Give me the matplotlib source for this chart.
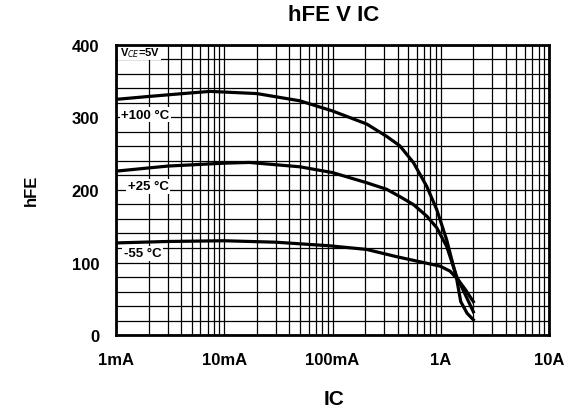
import matplotlib
matplotlib.use('Agg')
import matplotlib.pyplot as plt
from matplotlib.ticker import LogLocator, MultipleLocator, FixedLocator, NullFormatter

plt.rcParams['font.family'] = ['Liberation Sans', 'DejaVu Sans']

# collector current (A) and hFE
ic_100 = [0.001, 0.002, 0.005, 0.0074, 0.02, 0.05, 0.1, 0.207, 0.316, 0.418,
          0.558, 0.742, 0.918, 1.135, 1.4, 1.53, 1.75, 2.0]
hfe_100 = [325, 329, 334, 336, 333, 323, 309, 291, 274, 261,
           238, 205, 173, 131, 78, 46, 30, 21]

ic_25 = [0.001, 0.003, 0.01, 0.017, 0.05, 0.1, 0.207, 0.316, 0.418, 0.558,
         0.742, 0.918, 1.135, 1.4, 1.68, 2.0]
hfe_25 = [226, 233, 237, 238, 232, 224, 210, 201, 191, 180,
          164, 148, 122, 81, 56, 32]

ic_m55 = [0.001, 0.003, 0.01, 0.03, 0.095, 0.207, 0.391, 0.643, 0.985,
          1.22, 1.45, 1.7, 2.0]
hfe_m55 = [127, 129, 130, 128, 123, 118, 108, 101, 95,
           88, 76, 62, 46]

x_ticks = [0.001, 0.01, 0.1, 1, 10]
x_labels = ['1mA', '10mA', '100mA', '1A', '10A']
y_ticks = [0, 100, 200, 300, 400]

fig = plt.figure(figsize=(5.71, 4.14), dpi=100)
ax = fig.add_axes([0.2032, 0.1884, 0.7583, 0.7005])

ax.set_xscale('log')
ax.set_xlim(0.001, 10)
ax.set_ylim(0, 400)

ax.xaxis.set_major_locator(FixedLocator(x_ticks))
ax.xaxis.set_minor_locator(LogLocator(base=10, subs=range(2, 10)))
ax.xaxis.set_minor_formatter(NullFormatter())
ax.set_xticklabels(x_labels)
ax.yaxis.set_major_locator(FixedLocator(y_ticks))
ax.yaxis.set_minor_locator(MultipleLocator(20))

ax.grid(True, which='both', color='black', lw=0.9)
ax.tick_params(which='both', length=0)
ax.tick_params(axis='x', pad=12)
ax.tick_params(axis='y', pad=12)
for lab in ax.get_xticklabels() + ax.get_yticklabels():
    lab.set_fontsize(12)
    lab.set_fontweight('bold')
for sp in ax.spines.values():
    sp.set_linewidth(2)
    sp.set_zorder(5)

ax.plot(ic_100, hfe_100, color='black', lw=2.3)
ax.plot(ic_25, hfe_25, color='black', lw=2.3)
ax.plot(ic_m55, hfe_m55, color='black', lw=2.3)

box = dict(facecolor='white', edgecolor='none', pad=1.0)
ax.text(0.00112, 304, '+100 °C', fontsize=9.5, fontweight='bold',
        bbox=box, va='center')
ax.text(0.00128, 205, '+25 °C', fontsize=9.5, fontweight='bold',
        bbox=box, va='center')
ax.text(0.00118, 113, '-55 °C', fontsize=9.5, fontweight='bold',
        bbox=box, va='center')
ax.text(0.00108, 390, 'V$_{CE}$=5V', fontsize=8, fontweight='bold',
        bbox=box, va='center')

fig.text(0.585, 0.962, 'hFE V IC', fontsize=16, fontweight='bold',
         ha='center', va='center')
fig.text(0.055, 0.54, 'hFE', fontsize=12, fontweight='bold', rotation=90,
         ha='center', va='center')
fig.text(0.585, 0.035, 'IC', fontsize=15, fontweight='bold',
         ha='center', va='center')

fig.savefig('out.png', dpi=100)
